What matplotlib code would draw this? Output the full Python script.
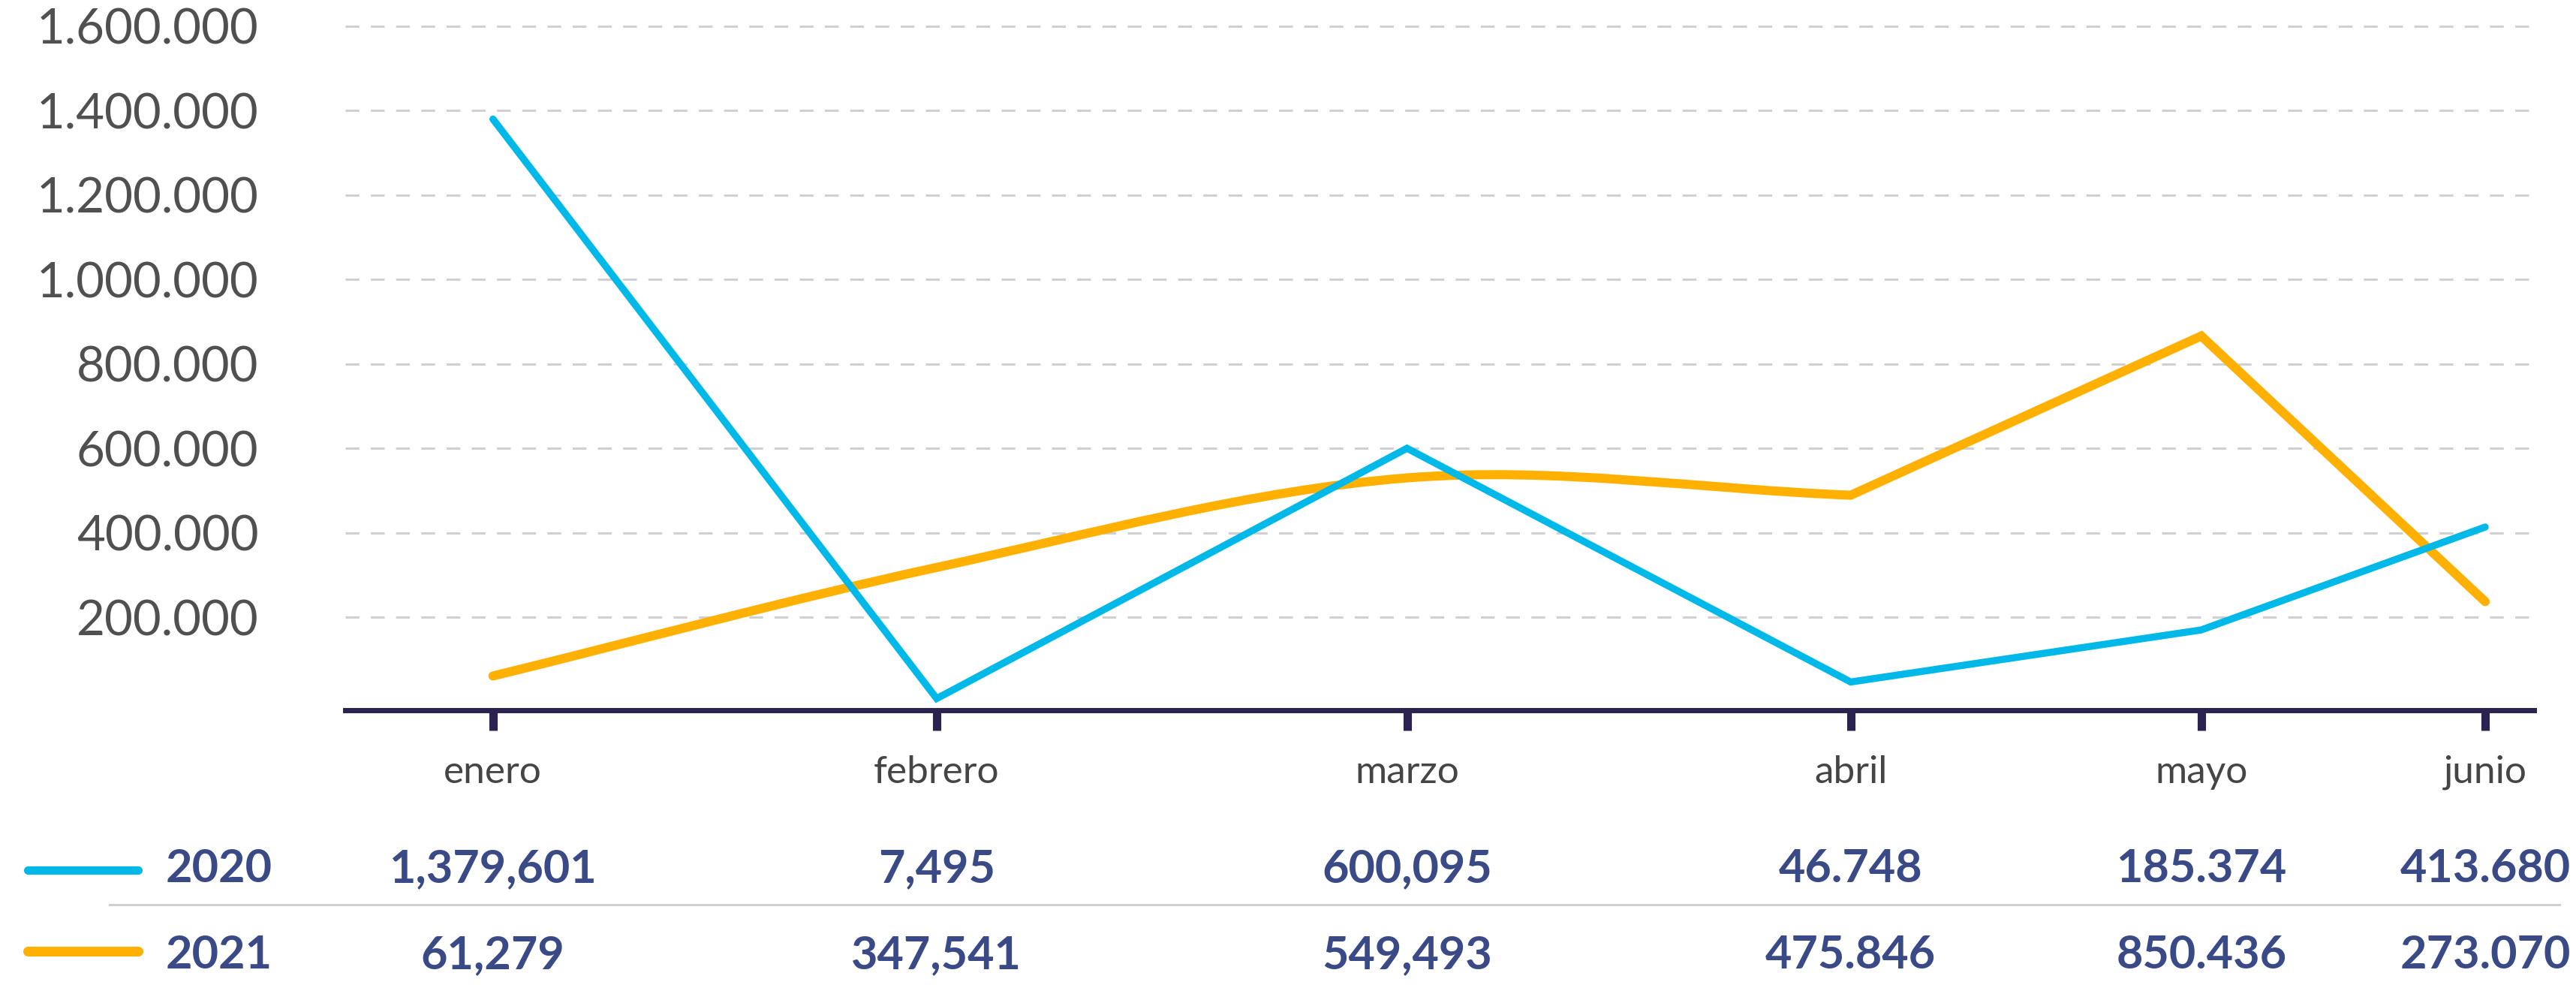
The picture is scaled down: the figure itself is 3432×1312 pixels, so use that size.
import matplotlib.pyplot as plt
from matplotlib.lines import Line2D
from matplotlib.patches import PathPatch
from matplotlib.path import Path

plt.rcParams["font.family"] = ["Lato", "DejaVu Sans"]

# Categories and where each month sits on the (unevenly spaced) x axis
months = ["enero", "febrero", "marzo", "abril", "mayo", "junio"]
month_x = [0.0, 1.0, 2.06, 3.06, 3.85, 4.49]

# Values as drawn by the lines
values_2020 = [1379601, 7495, 600095, 46748, 170000, 413680]
values_2021 = [61000, 318000, 530000, 489000, 866000, 237000]

# Values printed in the table under the chart
years = ["2020", "2021"]
table_2020 = ["1,379,601", "7,495", "600,095", "46.748", "185.374", "413.680"]
table_2021 = ["61,279", "347,541", "549,493", "475.846", "850.436", "273.070"]

y_ticks = [200000, 400000, 600000, 800000, 1000000, 1200000, 1400000, 1600000]
y_tick_labels = ["200.000", "400.000", "600.000", "800.000",
                 "1.000.000", "1.200.000", "1.400.000", "1.600.000"]

blue = "#00b9e9"
orange = "#ffb000"
navy = "#3a4a87"
axis_col = "#2b2250"
grid_col = "#cfcfd4"

fig = plt.figure(figsize=(34.32, 13.12), dpi=100)
ax = fig.add_axes([0.134, 0.279, 0.8497, 0.6989])

ax.set_xlim(-0.333, 4.60)
ax.set_ylim(-20000, 1610000)

for side in ["top", "left", "right"]:
    ax.spines[side].set_visible(False)
ax.spines["bottom"].set_color(axis_col)
ax.spines["bottom"].set_linewidth(5)

ax.set_xticks(month_x)
ax.tick_params(axis="x", length=19.5, width=8, color=axis_col, labelbottom=False)
ax.set_yticks(y_ticks)
ax.set_yticklabels(y_tick_labels)
ax.tick_params(axis="y", length=0, pad=83, labelsize=47, labelcolor="#505050")
ax.yaxis.grid(True, linestyle=(0, (6, 5)), linewidth=2.2, color=grid_col)
ax.set_axisbelow(True)

# 2020: straight segments
ax.plot(month_x, values_2020, color=blue, lw=6.8, solid_capstyle="round",
        solid_joinstyle="miter", zorder=4, clip_on=False)

# 2021: smooth through enero..abril, straight afterwards
n_smooth = 4
slopes = []
for i in range(n_smooth):
    lo = max(i - 1, 0)
    hi = min(i + 1, n_smooth - 1)
    slopes.append((values_2021[hi] - values_2021[lo]) / (month_x[hi] - month_x[lo]))
verts = [(month_x[0], values_2021[0])]
codes = [Path.MOVETO]
for i in range(n_smooth - 1):
    dx = (month_x[i + 1] - month_x[i]) / 3
    verts += [(month_x[i] + dx, values_2021[i] + slopes[i] * dx),
              (month_x[i + 1] - dx, values_2021[i + 1] - slopes[i + 1] * dx),
              (month_x[i + 1], values_2021[i + 1])]
    codes += [Path.CURVE4] * 3
for i in range(n_smooth, len(months)):
    verts.append((month_x[i], values_2021[i]))
    codes.append(Path.LINETO)
ax.add_patch(PathPatch(Path(verts, codes), facecolor="none", edgecolor=orange,
                       lw=8.7, capstyle="round", joinstyle="miter", zorder=3,
                       clip_on=False))

# Month labels and table rows
xt = ax.get_xaxis_transform()
for x, m, a, b in zip(month_x, months, table_2020, table_2021):
    ax.text(x, -0.1058, m, transform=xt, ha="center", va="baseline",
            fontsize=37, color="#454545", clip_on=False)
    ax.text(x, -0.2497, a, transform=xt, ha="center", va="baseline",
            fontsize=44, fontweight="bold", color=navy, clip_on=False)
    ax.text(x, -0.3751, b, transform=xt, ha="center", va="baseline",
            fontsize=44, fontweight="bold", color=navy, clip_on=False)

# Legend keys and year labels
fig.add_artist(Line2D([0.0108, 0.0536], [0.1166, 0.1166], color=blue, lw=8,
                      solid_capstyle="round"))
fig.add_artist(Line2D([0.0108, 0.0536], [0.0343, 0.0343], color=orange, lw=9.4,
                      solid_capstyle="round"))
fig.text(0.1058, 0.1044, years[0], ha="right", va="baseline", fontsize=44,
         fontweight="bold", color=navy)
fig.text(0.1058, 0.0168, years[1], ha="right", va="baseline", fontsize=44,
         fontweight="bold", color=navy)

# Separator between the two rows
fig.add_artist(Line2D([0.0425, 0.9936], [0.0816, 0.0816], color=grid_col, lw=2.2))

fig.savefig("out.png", dpi=100)
